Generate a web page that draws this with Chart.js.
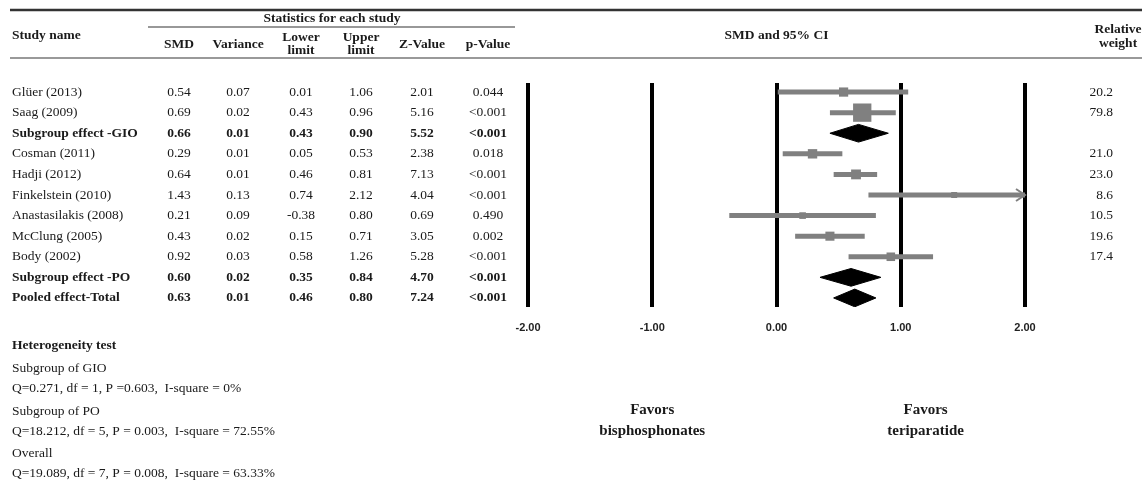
<!DOCTYPE html>
<html>
<head>
<meta charset="utf-8">
<script src="https://cdn.jsdelivr.net/npm/chart.js@4"></script>
<style>
html, body { margin: 0; padding: 0; background: #fff; }
#wrap { width: 1142px; height: 482px; position: relative; }
</style>
</head>
<body>
<div id="wrap"><canvas id="forest"></canvas></div>
<script>
// study rows, top to bottom
var studies = ['Glüer (2013)', 'Saag (2009)', 'Subgroup effect -GIO', 'Cosman (2011)', 'Hadji (2012)',
    'Finkelstein (2010)', 'Anastasilakis (2008)', 'McClung (2005)', 'Body (2002)',
    'Subgroup effect -PO', 'Pooled effect-Total'];
var isSummary = [false, false, true, false, false, false, false, false, false, true, true];
var smd = [0.54, 0.69, 0.66, 0.29, 0.64, 1.43, 0.21, 0.43, 0.92, 0.60, 0.63];
var variance = [0.07, 0.02, 0.01, 0.01, 0.01, 0.13, 0.09, 0.02, 0.03, 0.02, 0.01];
var lower = [0.01, 0.43, 0.43, 0.05, 0.46, 0.74, -0.38, 0.15, 0.58, 0.35, 0.46];
var upper = [1.06, 0.96, 0.90, 0.53, 0.81, 2.12, 0.80, 0.71, 1.26, 0.84, 0.80];
var zValue = [2.01, 5.16, 5.52, 2.38, 7.13, 4.04, 0.69, 3.05, 5.28, 4.70, 7.24];
var pValue = ['0.044', '<0.001', '<0.001', '0.018', '<0.001', '<0.001', '0.490', '0.002', '<0.001', '<0.001', '<0.001'];
var relWeight = [20.2, 79.8, null, 21.0, 23.0, 8.6, 10.5, 19.6, 17.4, null, null];

var xTicks = [-2, -1, 0, 1, 2];

var heteroLines = [
    ['Heterogeneity test', true],
    ['Subgroup of GIO', false],
    ['Q=0.271, df = 1, P =0.603,  I-square = 0%', false],
    ['Subgroup of PO', false],
    ['Q=18.212, df = 5, P = 0.003,  I-square = 72.55%', false],
    ['Overall', false],
    ['Q=19.089, df = 7, P = 0.008,  I-square = 63.33%', false]
];
var heteroY = [346, 368, 388, 411, 431, 453, 473];

var SERIF = '"Liberation Serif", "Times New Roman", serif';
var GREY = '#808080';
var DIAMOND_HALF = 0.43; // half height of the summary diamonds, in rows

// build datasets
var datasets = [];
var squares = [];
for (var i = 0; i < studies.length; i++) {
    if (isSummary[i]) {
        datasets.push({
            type: 'line',
            data: [{x: lower[i], y: i}, {x: smd[i], y: i - DIAMOND_HALF}, {x: upper[i], y: i},
                   {x: smd[i], y: i + DIAMOND_HALF}, {x: lower[i], y: i}],
            fill: 'shape',
            backgroundColor: '#000',
            borderColor: '#000',
            borderWidth: 1,
            pointRadius: 0,
            tension: 0
        });
    } else {
        datasets.push({
            type: 'line',
            data: [{x: lower[i], y: i}, {x: upper[i], y: i}],
            borderColor: GREY,
            borderWidth: 5,
            borderCapStyle: 'butt',
            pointRadius: 0,
            fill: false,
            clip: 0
        });
        squares.push({x: smd[i], y: i, w: relWeight[i]});
    }
}
// study squares, area follows the relative weight
datasets.push({
    type: 'scatter',
    data: squares,
    pointStyle: 'rect',
    backgroundColor: GREY,
    borderWidth: 0,
    pointRadius: function (ctx) {
        var w = ctx.raw ? ctx.raw.w : 0;
        return 1.45 * Math.sqrt(w);
    }
});

// arrow where the CI runs past the axis
var arrowPlugin = {
    id: 'ciArrows',
    afterDatasetsDraw: function (chart) {
        var xs = chart.scales.x, ys = chart.scales.y, c = chart.ctx;
        c.save();
        c.strokeStyle = GREY;
        c.lineWidth = 2;
        for (var i = 0; i < studies.length; i++) {
            if (isSummary[i] || upper[i] <= xs.max) continue;
            var px = xs.getPixelForValue(xs.max), py = ys.getPixelForValue(i);
            c.beginPath();
            c.moveTo(px - 9, py - 6);
            c.lineTo(px, py);
            c.lineTo(px - 9, py + 6);
            c.stroke();
        }
        c.restore();
    }
};

function txt(c, s, x, y, align, font) {
    c.font = font;
    c.textAlign = align;
    c.fillText(s, x, y);
}

function hline(c, x1, x2, y, w, color) {
    c.beginPath();
    c.strokeStyle = color;
    c.lineWidth = w;
    c.moveTo(x1, y);
    c.lineTo(x2, y);
    c.stroke();
}

// table on the left, weights on the right, headers and footnotes
var tablePlugin = {
    id: 'tableText',
    afterDraw: function (chart) {
        var c = chart.ctx, ys = chart.scales.y, xs = chart.scales.x;
        var bold = 'bold 13.5px ' + SERIF, reg = '13.5px ' + SERIF;
        var cols = [179, 238, 301, 361, 422, 488];
        c.save();
        c.fillStyle = '#1a1a1a';
        c.textBaseline = 'middle';

        hline(c, 10, 1142, 10, 2.5, '#333');
        hline(c, 148, 515, 27, 1.2, '#333');
        hline(c, 10, 1142, 58, 1.8, '#999');

        txt(c, 'Statistics for each study', 332, 19, 'center', bold);
        txt(c, 'Study name', 12, 36, 'left', bold);
        txt(c, 'SMD', cols[0], 45, 'center', bold);
        txt(c, 'Variance', cols[1], 45, 'center', bold);
        txt(c, 'Lower', cols[2], 38, 'center', bold);
        txt(c, 'limit', cols[2], 51, 'center', bold);
        txt(c, 'Upper', cols[3], 38, 'center', bold);
        txt(c, 'limit', cols[3], 51, 'center', bold);
        txt(c, 'Z-Value', cols[4], 45, 'center', bold);
        txt(c, 'p-Value', cols[5], 45, 'center', bold);
        txt(c, 'SMD and 95% CI', xs.getPixelForValue(0), 36, 'center', bold);
        txt(c, 'Relative', 1118, 30, 'center', bold);
        txt(c, 'weight', 1118, 44, 'center', bold);

        for (var i = 0; i < studies.length; i++) {
            var y = ys.getPixelForValue(i);
            var f = isSummary[i] ? bold : reg;
            txt(c, studies[i], 12, y, 'left', f);
            txt(c, smd[i].toFixed(2), cols[0], y, 'center', f);
            txt(c, variance[i].toFixed(2), cols[1], y, 'center', f);
            txt(c, lower[i].toFixed(2), cols[2], y, 'center', f);
            txt(c, upper[i].toFixed(2), cols[3], y, 'center', f);
            txt(c, zValue[i].toFixed(2), cols[4], y, 'center', f);
            txt(c, pValue[i], cols[5], y, 'center', f);
            if (relWeight[i] != null) txt(c, relWeight[i].toFixed(1), 1113, y, 'right', reg);
        }

        for (var k = 0; k < heteroLines.length; k++) {
            txt(c, heteroLines[k][0], 12, heteroY[k], 'left', heteroLines[k][1] ? bold : reg);
        }

        var fav = 'bold 15px ' + SERIF;
        var xl = xs.getPixelForValue(-1), xr = xs.getPixelForValue(1.2);
        txt(c, 'Favors', xl, 410, 'center', fav);
        txt(c, 'bisphosphonates', xl, 431, 'center', fav);
        txt(c, 'Favors', xr, 410, 'center', fav);
        txt(c, 'teriparatide', xr, 431, 'center', fav);
        c.restore();
    }
};

var ctx = document.getElementById('forest').getContext('2d');
var forest = new Chart(ctx, {
    type: 'line',
    data: {datasets: datasets},
    options: {
        responsive: true,
        maintainAspectRatio: false,
        animation: false,
        layout: {padding: {left: 528, right: 117, top: 83, bottom: 145}},
        plugins: {legend: {display: false}, tooltip: {enabled: false}},
        scales: {
            x: {
                type: 'linear',
                min: -2,
                max: 2,
                z: 1,
                afterBuildTicks: function (scale) {
                    scale.ticks = xTicks.map(function (v) { return {value: v}; });
                },
                afterFit: function (scale) { scale.height = 30; },
                border: {display: false},
                grid: {color: '#000', lineWidth: 4, drawTicks: false},
                ticks: {
                    padding: 14,
                    color: '#222',
                    font: {family: '"Liberation Sans", Arial, sans-serif', size: 11, weight: 'bold'},
                    callback: function (v) { return Number(v).toFixed(2); }
                }
            },
            y: {
                type: 'linear',
                display: false,
                reverse: true,
                min: -0.44,
                max: 10.44
            }
        }
    },
    plugins: [arrowPlugin, tablePlugin]
});
</script>
</body>
</html>
